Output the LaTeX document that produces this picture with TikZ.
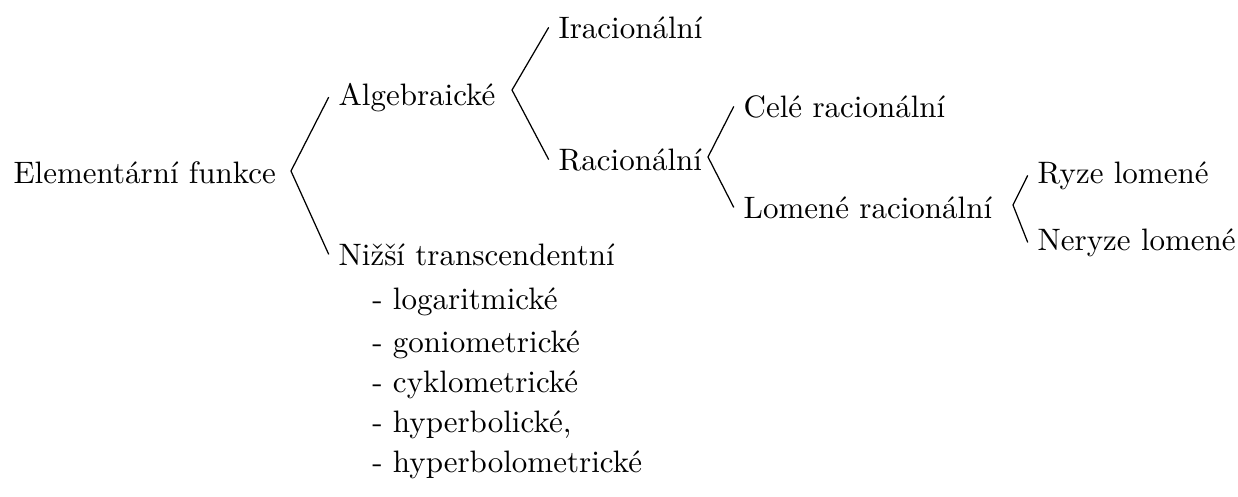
\documentclass[tikz,border=0pt]{standalone}
\usepackage{fontspec}

\begin{document}
\begin{tikzpicture}[lbl/.style = {inner sep=3pt, anchor=base west}]
				\useasboundingbox (0,0) rectangle (14.036,5.624);
				\node[lbl] (root) at (0.042,3.549) {Elementární funkce};
				\node[lbl] (alg) at (3.727,4.433) {Algebraické};
				\node[lbl] (niz) at (3.727,2.619) {Nižší transcendentní};
				\node[lbl] (irac) at (6.221,5.193) {Iracionální};
				\node[lbl] (rac) at (6.221,3.696) {Racionální};
				\node[lbl] (cele) at (8.319,4.297) {Celé racionální};
				\node[lbl] (lomrac) at (8.319,3.152) {Lomené racionální};
				\node[lbl] (ryze) at (11.652,3.549) {Ryze lomené};
				\node[lbl] (neryze) at (11.652,2.789) {Neryze lomené};
				\node[lbl] (log) at (4.109,2.120) {- logaritmické};
				\node[lbl] (gon) at (4.109,1.633) {- goniometrické};
				\node[lbl] (cyk) at (4.109,1.179) {- cyklometrické};
				\node[lbl] (hyp) at (4.109,0.726) {- hyperbolické,};
				\node[lbl] (hypm) at (4.109,0.272) {- hyperbolometrické};
				\coordinate (F1) at (3.299,3.685);
				\coordinate (F2) at (5.805,4.603);
				\coordinate (F3) at (8.027,3.844);
				\coordinate (F4) at (11.485,3.299);
				\draw (alg.west) -- (F1) -- (niz.west);
				\draw (irac.west) -- (F2) -- (rac.west);
				\draw (cele.west) -- (F3) -- (lomrac.west);
				\draw (ryze.west) -- (F4) -- (neryze.west);
			\end{tikzpicture}
\end{document}
